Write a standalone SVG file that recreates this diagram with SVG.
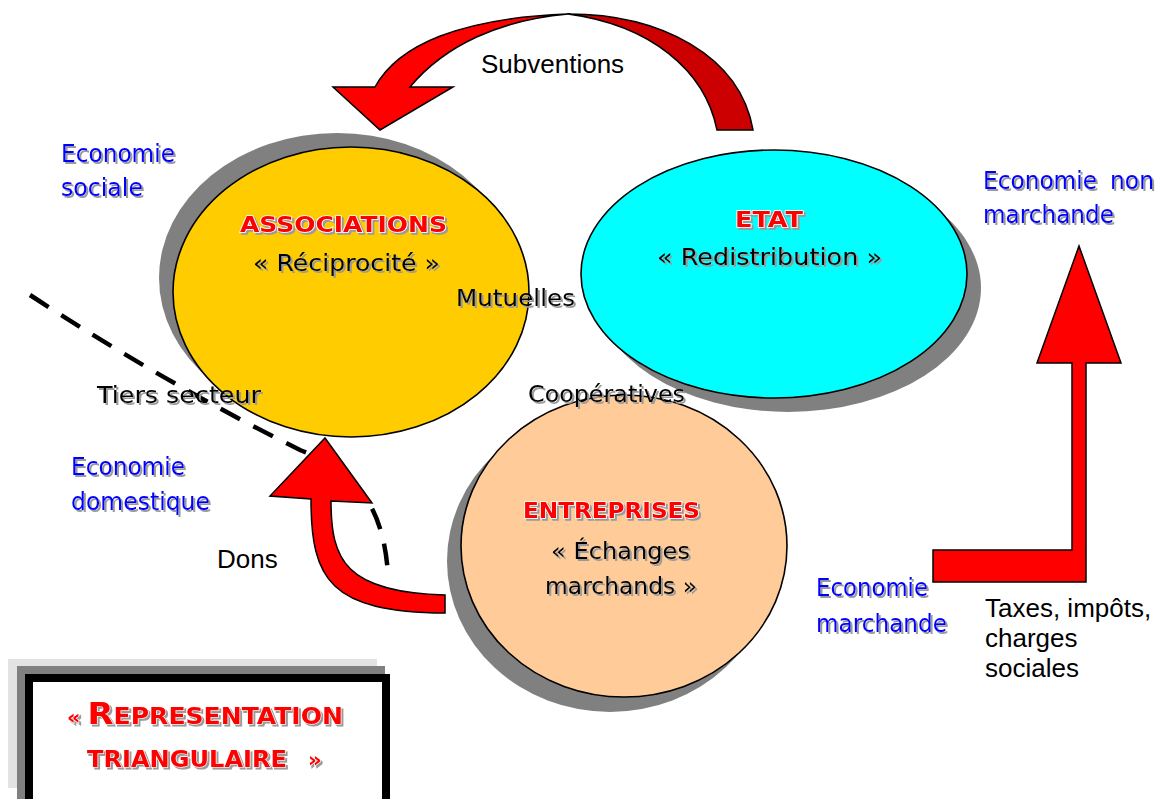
<svg xmlns="http://www.w3.org/2000/svg" width="1160" height="799" viewBox="0 0 1160 799">
  <defs>
    <filter id="tsh" x="-10%" y="-30%" width="120%" height="160%">
      <feDropShadow dx="2" dy="2" stdDeviation="0.5" flood-color="#9a9a9a" flood-opacity="1"/>
    </filter>
    <style>
      .comic { font-family: "DejaVu Sans", "Noto Sans", sans-serif; }
      .arial { font-family: "Liberation Sans", Arial, sans-serif; font-size: 26px; fill: #000; }
      .blue { fill: #0000FF; font-size: 24px; }
      .blk { fill: #000; font-size: 23px; }
      .red { fill: #FF0000; font-weight: bold; font-size: 21px; stroke: #fff; stroke-width: 1.5; paint-order: stroke; }
      .sh { filter: url(#tsh); }
      .shadow { fill: #808080; }
      .node { stroke: #000; stroke-width: 1.6; }
      .arrow { stroke: #000; stroke-width: 1.5; stroke-linejoin: miter; }
    </style>
  </defs>
  <rect width="1160" height="799" fill="#fff"/>

  <!-- boundary -->
  <g id="boundary">
    <path d="M30,295 Q165,383 300,450 C340,465 383,490 388,575" fill="none" stroke="#000" stroke-width="4.5" stroke-dasharray="22,15"/>
  </g>

  <!-- connectors -->
  <g id="connectors">
    <g id="arrow-subventions">
      <path class="arrow" fill="#FF0000" d="M333,87 L375,87 C398,45 460,18 568,14 C500,20 445,45 410,87 L453,87 L380,130 Z"/>
      <path class="arrow" fill="#CC0000" d="M568,14 C660,14 740,55 753,130 L717,130 C705,70 650,25 568,14 Z"/>
    </g>
    <g id="arrow-dons">
      <path class="arrow" fill="#FF0000" d="M325,438 L372,503 L331,501 C331,560 345,592 445,595 L445,613 C330,612 311,580 311,499 L270,496 Z"/>
    </g>
    <g id="arrow-taxes">
      <path class="arrow" fill="#FF0000" d="M933,550 L1072,550 L1072,363 L1037,363 L1079,246 L1121,363 L1086,363 L1086,582 L933,582 Z"/>
    </g>
  </g>

  <!-- nodes -->
  <g id="node-associations">
    <ellipse class="shadow" cx="337" cy="278" rx="178" ry="145"/>
    <ellipse class="node" fill="#FFCC00" cx="351" cy="292" rx="178" ry="145"/>
    <g class="sh">
      <text class="comic red" x="240" y="232" textLength="207" lengthAdjust="spacingAndGlyphs">ASSOCIATIONS</text>
      <text class="comic blk" x="253" y="271" textLength="187" lengthAdjust="spacingAndGlyphs">« Réciprocité »</text>
    </g>
  </g>

  <g id="node-etat">
    <ellipse class="shadow" cx="788" cy="288" rx="193" ry="124"/>
    <ellipse class="node" fill="#00FFFF" cx="774" cy="274" rx="193" ry="124"/>
    <g class="sh">
      <text class="comic red" x="735" y="227" textLength="68" lengthAdjust="spacingAndGlyphs">ETAT</text>
      <text class="comic blk" x="657" y="265" textLength="225" lengthAdjust="spacingAndGlyphs">« Redistribution »</text>
    </g>
  </g>

  <g id="node-entreprises">
    <ellipse class="shadow" cx="610" cy="561" rx="163" ry="151"/>
    <ellipse class="node" fill="#FFCC99" cx="624" cy="546" rx="163" ry="151"/>
    <g class="sh">
      <text class="comic red" x="523" y="518" textLength="177" lengthAdjust="spacingAndGlyphs">ENTREPRISES</text>
      <text class="comic blk" x="551" y="559" textLength="139" lengthAdjust="spacingAndGlyphs">« Échanges</text>
      <text class="comic blk" x="545" y="594" textLength="152" lengthAdjust="spacingAndGlyphs">marchands »</text>
    </g>
  </g>

  <!-- labels -->
  <g id="labels">
    <g class="sh">
      <text class="comic blk" x="456" y="306" textLength="119" lengthAdjust="spacingAndGlyphs">Mutuelles</text>
      <text class="comic blk" x="528" y="402" textLength="157" lengthAdjust="spacingAndGlyphs">Coopératives</text>
      <text class="comic blk" x="97" y="403" textLength="164" lengthAdjust="spacingAndGlyphs">Tiers secteur</text>

      <text class="comic blue" x="61" y="162" textLength="114" lengthAdjust="spacingAndGlyphs">Economie</text>
      <text class="comic blue" x="61" y="196" textLength="82" lengthAdjust="spacingAndGlyphs">sociale</text>

      <text class="comic blue" x="983" y="189"><tspan textLength="114" lengthAdjust="spacingAndGlyphs">Economie</tspan> <tspan x="1110" textLength="44" lengthAdjust="spacingAndGlyphs">non</tspan></text>
      <text class="comic blue" x="983" y="223" textLength="131" lengthAdjust="spacingAndGlyphs">marchande</text>

      <text class="comic blue" x="71" y="475" textLength="114" lengthAdjust="spacingAndGlyphs">Economie</text>
      <text class="comic blue" x="71" y="510" textLength="139" lengthAdjust="spacingAndGlyphs">domestique</text>

      <text class="comic blue" x="816" y="596" textLength="112" lengthAdjust="spacingAndGlyphs">Economie</text>
      <text class="comic blue" x="816" y="632" textLength="131" lengthAdjust="spacingAndGlyphs">marchande</text>
    </g>

    <text class="arial" x="481" y="73">Subventions</text>
    <text class="arial" x="217" y="568">Dons</text>
    <text class="arial" x="985" y="617">Taxes, impôts,</text>
    <text class="arial" x="985" y="647">charges</text>
    <text class="arial" x="985" y="677">sociales</text>
  </g>

  <!-- legend box -->
  <g id="legend">
    <rect x="8" y="659" width="369" height="129" fill="#E3E3E3"/>
    <rect x="17" y="666" width="368" height="133" fill="#808080"/>
    <rect x="29" y="678" width="357" height="125" fill="#FFFFFF" stroke="#000" stroke-width="8"/>
    <g class="sh">
      <text class="comic" x="67" y="724" fill="#FF0000" font-weight="bold" stroke="#fff" stroke-width="1.2" paint-order="stroke" textLength="276" lengthAdjust="spacingAndGlyphs"><tspan font-size="19">« </tspan><tspan font-size="31">R</tspan><tspan font-size="23">EPRESENTATION</tspan></text>
      <text class="comic" x="87" y="767" fill="#FF0000" font-weight="bold" stroke="#fff" stroke-width="1.2" paint-order="stroke" font-size="23"><tspan textLength="200" lengthAdjust="spacingAndGlyphs">TRIANGULAIRE</tspan> <tspan x="308" font-size="21">»</tspan></text>
    </g>
  </g>
</svg>
